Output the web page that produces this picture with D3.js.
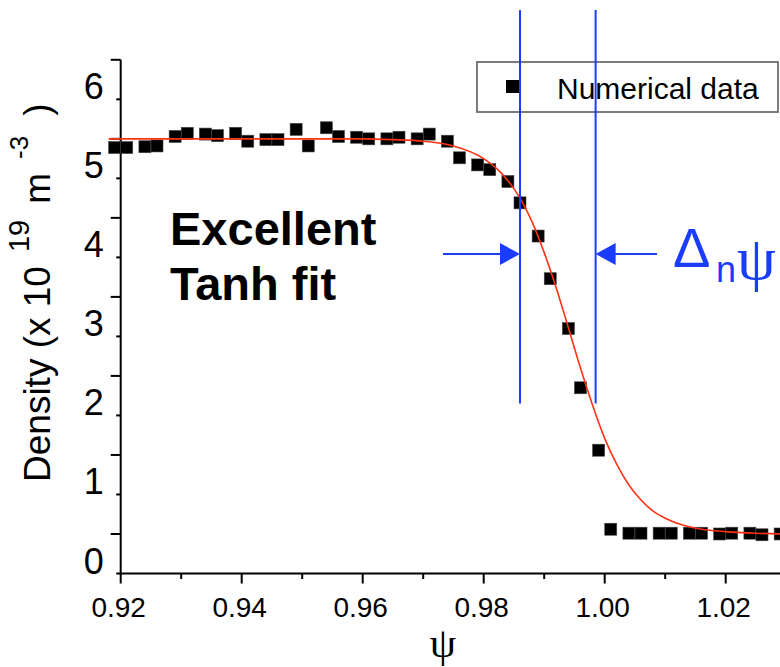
<!DOCTYPE html>
<html>
<head>
<meta charset="utf-8">
<script src="https://cdn.jsdelivr.net/npm/d3@7/dist/d3.min.js"></script>
<style>
  html, body { margin: 0; padding: 0; background: #fff; }
  svg { display: block; }
</style>
</head>
<body>
<svg id="chart" width="780" height="667"></svg>
<script>
// Pedestal density profile: numerical points and tanh fit
const psi = [0.919, 0.921, 0.924, 0.926, 0.929, 0.931, 0.934, 0.936, 0.939, 0.941,
             0.944, 0.946, 0.949, 0.951, 0.954, 0.956, 0.959, 0.961, 0.964, 0.966,
             0.969, 0.971, 0.974, 0.976, 0.979, 0.981, 0.984, 0.986, 0.989, 0.991,
             0.994, 0.996, 0.999, 1.001, 1.004, 1.006, 1.009, 1.011, 1.014, 1.016,
             1.019, 1.021, 1.024, 1.026, 1.029];
const density = [5.39, 5.39, 5.40, 5.41, 5.53, 5.57, 5.56, 5.54, 5.57, 5.47,
                 5.49, 5.49, 5.62, 5.41, 5.64, 5.53, 5.52, 5.50, 5.50, 5.52,
                 5.50, 5.56, 5.47, 5.26, 5.17, 5.11, 4.96, 4.69, 4.27, 3.73,
                 3.10, 2.35, 1.56, 0.56, 0.51, 0.51, 0.51, 0.51, 0.51, 0.51,
                 0.50, 0.51, 0.51, 0.49, 0.50];

const fitPsi = [0.918, 0.93, 0.94, 0.95, 0.96, 0.965, 0.97, 0.975, 0.98, 0.983,
                0.986, 0.988, 0.990, 0.992, 0.994, 0.996, 0.998, 1.000, 1.002, 1.004,
                1.006, 1.008, 1.010, 1.013, 1.016, 1.020, 1.025, 1.030];
const fitDensity = [5.50, 5.50, 5.50, 5.50, 5.50, 5.49, 5.47, 5.41, 5.25, 5.06,
                    4.75, 4.45, 4.06, 3.61, 3.11, 2.60, 2.13, 1.71, 1.38, 1.12,
                    0.93, 0.79, 0.70, 0.61, 0.56, 0.53, 0.51, 0.50];

const xTickValues = [0.92, 0.94, 0.96, 0.98, 1.00, 1.02];
const xMinorTicks = [0.93, 0.95, 0.97, 0.99, 1.01];
const yTickValues = [0, 1, 2, 3, 4, 5, 6];
const yHalfTicks = [0.5, 1.5, 2.5, 3.5, 4.5, 5.5, 6.5];
const widthMarks = [0.986, 0.9985];   // Δnψ boundaries
const legendLabel = "Numerical data";

const svg = d3.select("#chart");
const sans = "'Liberation Sans', Arial, sans-serif";
const serif = "'Liberation Serif', 'Times New Roman', serif";
const blue = "#1a3cff";

const x = d3.scaleLinear().domain([0.92, 1.03]).range([120.7, 786.2]);
const y = d3.scaleLinear().domain([0, 6.5]).range([573.5, 59.8]);

// Axes
const xAxisG = svg.append("g").attr("transform", `translate(0,${y(0)})`);
xAxisG.append("line").attr("x1", x(0.92) - 1).attr("x2", 780)
  .attr("stroke", "#000").attr("stroke-width", 2.2);
xAxisG.selectAll("line.maj").data(xTickValues).join("line").attr("class", "maj")
  .attr("x1", d => x(d)).attr("x2", d => x(d)).attr("y1", 0).attr("y2", 10)
  .attr("stroke", "#000").attr("stroke-width", 2);
xAxisG.selectAll("line.min").data(xMinorTicks).join("line").attr("class", "min")
  .attr("x1", d => x(d)).attr("x2", d => x(d)).attr("y1", 0).attr("y2", 5.5)
  .attr("stroke", "#000").attr("stroke-width", 2);
xAxisG.selectAll("text").data(xTickValues).join("text")
  .attr("x", d => x(d) - 2).attr("y", 43)
  .attr("text-anchor", "middle")
  .attr("font-family", sans).attr("font-size", 28).attr("fill", "#000")
  .text(d => d3.format(".2f")(d));

const yAxisG = svg.append("g").attr("transform", `translate(${x(0.92)},0)`);
yAxisG.append("line").attr("y1", y(6.5)).attr("y2", y(0) + 1)
  .attr("stroke", "#000").attr("stroke-width", 2);
yAxisG.selectAll("line.maj").data(yHalfTicks).join("line").attr("class", "maj")
  .attr("x1", -10).attr("x2", 0).attr("y1", d => y(d)).attr("y2", d => y(d))
  .attr("stroke", "#000").attr("stroke-width", 2);
yAxisG.selectAll("line.min").data(yTickValues).join("line").attr("class", "min")
  .attr("x1", -4.5).attr("x2", 0).attr("y1", d => y(d)).attr("y2", d => y(d))
  .attr("stroke", "#000").attr("stroke-width", 2);
yAxisG.selectAll("text").data(yTickValues).join("text")
  .attr("x", -17).attr("y", d => y(d))
  .attr("text-anchor", "end")
  .attr("font-family", sans).attr("font-size", 36).attr("fill", "#000")
  .text(d => d);

// Axis titles
svg.append("text")
  .attr("x", 443).attr("y", 657)
  .attr("text-anchor", "middle")
  .attr("font-family", serif).attr("font-size", 42).attr("fill", "#000")
  .text("ψ");

const yTitle = svg.append("text")
  .attr("transform", "translate(50,482) rotate(-90)")
  .attr("font-family", sans).attr("font-size", 37).attr("fill", "#000");
yTitle.append("tspan").text("Density (x 10");
yTitle.append("tspan").attr("font-size", 29).attr("dx", 14).attr("dy", -21).text("19");
yTitle.append("tspan").attr("dx", 16).attr("dy", 21).text("m");
yTitle.append("tspan").attr("font-size", 26).attr("dx", 14).attr("dy", -22).text("-3");
yTitle.append("tspan").attr("dx", 20).attr("dy", 22).text(")");

// Data points
const sq = 12;
svg.append("g").selectAll("rect").data(psi.map((p, i) => [p, density[i]])).join("rect")
  .attr("x", d => x(d[0]) - sq / 2).attr("y", d => y(d[1]) - sq / 2)
  .attr("width", sq).attr("height", sq)
  .attr("fill", "#000").attr("stroke", "#444").attr("stroke-width", 0.6);

// Tanh fit curve
const fitLine = d3.line().x(d => x(d[0])).y(d => y(d[1])).curve(d3.curveMonotoneX);
svg.append("path").datum(fitPsi.map((p, i) => [p, fitDensity[i]]))
  .attr("d", fitLine).attr("fill", "none")
  .attr("stroke", "#ff3314").attr("stroke-width", 1.6);

// Legend
const lg = svg.append("g");
lg.append("rect").attr("x", 477).attr("y", 62).attr("width", 301).attr("height", 50)
  .attr("fill", "#fff").attr("stroke", "#6e6e6e").attr("stroke-width", 1.8);
lg.append("rect").attr("x", 506).attr("y", 80).attr("width", 13).attr("height", 13).attr("fill", "#000");
lg.append("text").attr("x", 557).attr("y", 99)
  .attr("font-family", sans).attr("font-size", 30).attr("fill", "#000")
  .text(legendLabel);

// Annotation text
const note = svg.append("text").attr("font-family", sans).attr("font-weight", "bold")
  .attr("font-size", 47).attr("fill", "#000");
note.append("tspan").attr("x", 170).attr("y", 245).text("Excellent");
note.append("tspan").attr("x", 170).attr("y", 300).text("Tanh fit");

// Pedestal width markers
const wm = svg.append("g");
wm.selectAll("line").data(widthMarks).join("line")
  .attr("x1", d => x(d)).attr("x2", d => x(d))
  .attr("y1", 10).attr("y2", y(2.15))
  .attr("stroke", blue).attr("stroke-width", 2);

const arrowY = 254;
const xl = x(widthMarks[0]), xr = x(widthMarks[1]);
wm.append("line").attr("x1", 443).attr("x2", xl - 18).attr("y1", arrowY).attr("y2", arrowY)
  .attr("stroke", blue).attr("stroke-width", 2);
wm.append("path").attr("d", `M${xl},${arrowY} L${xl - 20},${arrowY - 11} L${xl - 20},${arrowY + 11} Z`)
  .attr("fill", blue);
wm.append("line").attr("x1", xr + 18).attr("x2", 657).attr("y1", arrowY).attr("y2", arrowY)
  .attr("stroke", blue).attr("stroke-width", 2);
wm.append("path").attr("d", `M${xr},${arrowY} L${xr + 20},${arrowY - 11} L${xr + 20},${arrowY + 11} Z`)
  .attr("fill", blue);

const dl = svg.append("text").attr("fill", blue).attr("font-family", sans);
dl.append("tspan").attr("x", 673).attr("y", 267).attr("font-size", 56).text("Δ");
dl.append("tspan").attr("x", 716).attr("y", 282).attr("font-size", 36).text("n");
dl.append("tspan").attr("x", 737).attr("y", 279).attr("font-family", serif).attr("font-size", 62).text("ψ");
</script>
</body>
</html>
